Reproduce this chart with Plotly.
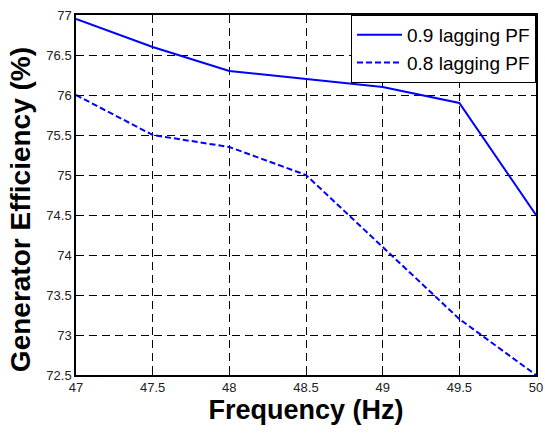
import plotly.graph_objects as go

freq = [47, 47.5, 48, 48.5, 49, 49.5, 50]
eff_09 = [76.95, 76.6, 76.3, 76.2, 76.1, 75.9, 74.5]
eff_08 = [76.0, 75.5, 75.35, 75.0, 74.1, 73.2, 72.5]
x_ticks = [47, 47.5, 48, 48.5, 49, 49.5, 50]
y_ticks = [72.5, 73, 73.5, 74, 74.5, 75, 75.5, 76, 76.5, 77]

FONT = "Liberation Sans, Arial, sans-serif"

fig = go.Figure()
fig.add_trace(go.Scatter(x=freq, y=eff_09, mode="lines", name="0.9 lagging PF",
                         line=dict(color="#0000ff", width=2)))
fig.add_trace(go.Scatter(x=freq, y=eff_08, mode="lines", name="0.8 lagging PF",
                         line=dict(color="#0000ff", width=2, dash="6px,3px")))

axis_common = dict(showline=True, linecolor="black", linewidth=1.5, mirror="ticks",
                   showgrid=True, gridcolor="black", gridwidth=1, griddash="8px,5px",
                   ticks="inside", ticklen=5, tickcolor="black", zeroline=False,
                   automargin=False, ticklabeloverflow="allow",
                   tickfont=dict(family=FONT, size=13, color="#222"))

fig.update_layout(
    width=545, height=441,
    margin=dict(l=76, r=9, t=15, b=66),
    paper_bgcolor="white", plot_bgcolor="white",
    showlegend=True,
    legend=dict(x=1, y=1, xanchor="right", yanchor="top",
                bgcolor="white", bordercolor="black", borderwidth=1,
                font=dict(family=FONT, size=19, color="black"),
                tracegroupgap=0, itemwidth=45),
    xaxis=dict(range=[47, 50], tickvals=x_ticks, ticktext=[f"{v:g}" for v in x_ticks],
               title=dict(text="<b>Frequency (Hz)</b>", standoff=4,
                          font=dict(family=FONT, size=27, color="black")),
               **axis_common),
    yaxis=dict(range=[72.5, 77], tickvals=y_ticks, ticktext=[f"{v:g}" for v in y_ticks],
               **axis_common),
    annotations=[dict(text="<b>Generator Efficiency (%)</b>", textangle=-90,
                      xref="paper", yref="paper", x=-0.1217, y=0.458,
                      xanchor="center", yanchor="middle", showarrow=False,
                      borderpad=0,
                      font=dict(family=FONT, size=28, color="black"))],
)

fig.write_html("out.html", config={"displayModeBar": False},
               post_script="document.body.style.margin='0';document.body.style.overflow='hidden';")
